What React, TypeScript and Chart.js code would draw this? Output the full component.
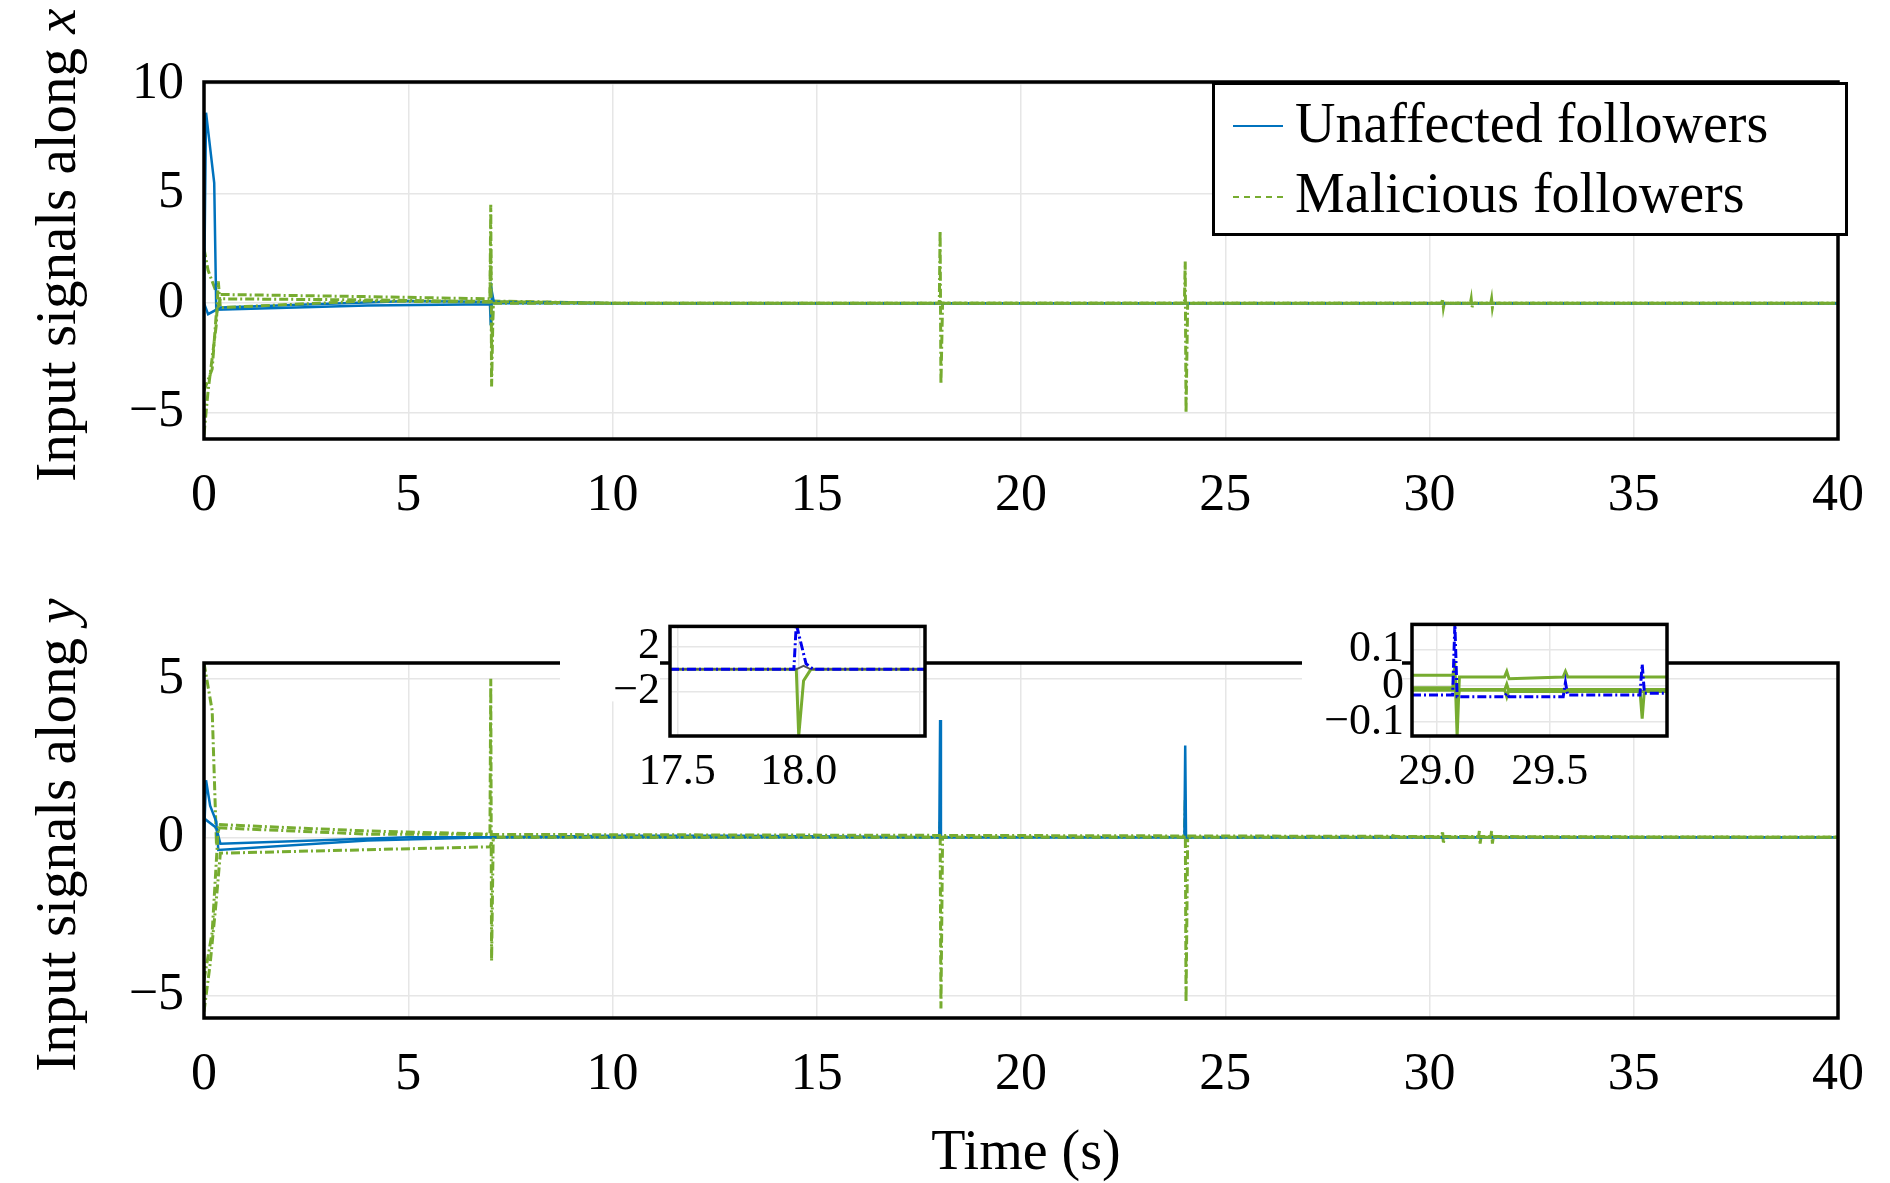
import React, { useEffect, useRef } from "react";
import { Chart, registerables } from "chart.js";
Chart.register(...registerables);

type P = { x: number; y: number };
const pts = (a: number[][]): P[] => a.map(([x, y]) => ({ x, y }));

const BLUE = "#0072BD";
const GREEN = "#77AC30";
const DARKBLUE = "#0000EE";

// Top panel (along x)
const topUnaffected1 = [[0,0],[0.05,8.7],[0.25,5.5],[0.3,-0.3],[4,-0.1],[7,-0.05],[7.02,-1],[7.05,0.5],[7.1,0],[10,0],[40,0]];
const topUnaffected2 = [[0,0],[0.1,-0.5],[0.4,-0.2],[5,0.1],[10,0],[40,0]];
const topMalicious1 = [[0,2.5],[0.1,1.5],[0.3,0.5],[0.35,0.4],[4,0.3],[7,0.2],[7.02,4.5],[7.04,-3.8],[7.08,0.1],[10,0],[18,0],[18.02,3.3],[18.04,-3.7],[18.08,0],[24,0],[24.02,1.9],[24.04,-5],[24.08,0],[30.3,0],[30.32,0.2],[30.34,-0.2],[30.36,0],[31,0],[31.02,0.2],[31.04,-0.2],[31.06,0],[31.5,0],[31.52,0.2],[31.54,-0.2],[31.56,0],[40,0]];
const topMalicious2 = [[0,-6],[0.1,-4],[0.3,-1],[0.35,1],[0.4,-0.2],[4,0.1],[7,0.05],[7.02,2.5],[7.04,-2],[7.08,0],[40,0]];
const topMalicious3 = [[0,-4],[0.2,-3],[0.3,-0.5],[0.4,0.2],[4,0.15],[10,0],[40,0]];

// Bottom panel (along y)
const botUnaffected1 = [[0,0],[0.05,1.8],[0.15,1.0],[0.3,0.5],[0.35,-0.4],[4,-0.1],[7,0],[10,0.05],[13,0.05],[18,0],[18.02,3.7],[18.04,0],[24,0],[24.02,2.9],[24.04,0],[40,0]];
const botUnaffected2 = [[0,0.6],[0.3,0.3],[0.4,-0.2],[5,0],[40,0]];
const botMalicious1 = [[0,5.5],[0.2,4],[0.3,0],[0.4,0.4],[4,0.2],[7,0.1],[7.02,5],[7.04,-3.9],[7.08,0],[18,0],[18.02,0.5],[18.04,-5.4],[18.08,0],[24,0],[24.02,1.2],[24.04,-5.2],[24.08,0],[29.1,0],[29.12,0.1],[29.14,0],[30.3,0],[30.32,0.2],[30.34,-0.2],[30.36,0],[31.2,0],[31.22,0.2],[31.24,-0.2],[31.26,0],[31.5,0],[31.52,0.2],[31.54,-0.2],[31.56,0],[40,0]];
const botMalicious2 = [[0,-5.5],[0.15,-4],[0.3,-2],[0.4,-0.5],[7,-0.3],[7.1,0],[40,0]];
const botMalicious3 = [[0,-4.5],[0.2,-3],[0.35,0.3],[4,0.1],[40,0]];

// Inset 1 (around t = 18)
const in1Blue = [[17.47,0],[17.98,0],[17.99,4],[18.03,0.5],[18.06,0],[18.52,0]];
const in1Green1 = [[17.47,0],[17.99,0],[18.0,-5.9],[18.02,-1],[18.05,0],[18.52,0]];
const in1Green2 = [[17.47,0],[17.99,0],[18.02,0.3],[18.05,0],[18.52,0]];

// Inset 2 (around t = 29-30)
const in2Blue = [[28.89,-0.025],[29.07,-0.025],[29.08,0.17],[29.09,-0.03],[29.3,-0.03],[29.31,-0.02],[29.32,-0.03],[29.56,-0.03],[29.57,0.01],[29.58,-0.025],[29.9,-0.025],[29.91,0.06],[29.92,-0.02],[30.02,-0.02]];
const in2Green1 = [[28.89,0.03],[29.07,0.03],[29.08,0.05],[29.09,-0.14],[29.1,0.025],[29.3,0.025],[29.31,0.04],[29.32,0.02],[29.56,0.025],[29.57,0.04],[29.58,0.025],[30.02,0.025]];
const in2Green2 = [[28.89,-0.005],[29.07,-0.005],[29.08,0.03],[29.09,-0.05],[29.1,-0.01],[29.3,-0.01],[29.31,-0.03],[29.32,-0.01],[29.9,-0.01],[29.91,-0.09],[29.92,-0.01],[30.02,-0.01]];
const in2Green3 = [[28.89,-0.012],[29.3,-0.012],[29.31,0.005],[29.32,-0.015],[29.7,-0.015],[30.02,-0.015]];

const FONT = "'Liberation Serif', 'Times New Roman', serif";

const borderPlugin = {
  id: "frame",
  beforeDraw(c: any) {
    const ctx = c.ctx;
    if (c.options.plugins.frame?.white) {
      const a = c.chartArea;
      ctx.save(); ctx.fillStyle = "#fff";
      ctx.fillRect(a.left, a.top, a.right - a.left, a.bottom - a.top);
      ctx.fillRect(a.left - 110, a.top, 100, 75);
      ctx.restore();
    }
  },
  afterDraw(c: any) {
    const a = c.chartArea, ctx = c.ctx;
    ctx.save(); ctx.strokeStyle = "#000"; ctx.lineWidth = 3.5;
    ctx.strokeRect(a.left, a.top, a.right - a.left, a.bottom - a.top); ctx.restore();
  },
};

function ds(data: number[][], color: string, dashed: boolean, w = 2.5) {
  return { data: pts(data), borderColor: color, borderWidth: dashed ? 3 : w, pointRadius: 0, fill: false, tension: 0, borderDash: dashed ? [9, 3, 2, 3] : [] };
}

function makeOpts(o: any) {
  return {
    animation: false, responsive: false, maintainAspectRatio: false,
    layout: { padding: o.padding },
    plugins: { legend: { display: false }, tooltip: { enabled: false }, frame: { white: !!o.white } },
    scales: {
      x: {
        type: "linear", min: o.xmin, max: o.xmax,
        grid: { color: "#e6e6e6", drawTicks: false, lineWidth: 1.5 }, border: { display: false },
        afterBuildTicks: (s: any) => { s.ticks = o.xticks.map((v: number) => ({ value: v })); },
        afterFit: (s: any) => { s.height = o.xh; },
        ticks: { color: "#000", font: { family: FONT, size: o.fs }, padding: o.xpad, maxRotation: 0, callback: o.xfmt },
      },
      y: {
        type: "linear", min: o.ymin, max: o.ymax,
        grid: { color: "#e6e6e6", drawTicks: false, lineWidth: 1.5 }, border: { display: false },
        afterBuildTicks: (s: any) => { s.ticks = o.yticks.map((v: number) => ({ value: v })); },
        afterFit: (s: any) => { s.width = o.yw; },
        ticks: { color: "#000", font: { family: FONT, size: o.fs }, padding: o.ypad, callback: (v: number) => (v < 0 ? "\u2212" + Math.abs(v) : String(v)) },
      },
    },
  };
}

function ChartBox({ style, w, h, datasets, opts }: any) {
  const ref = useRef<HTMLCanvasElement>(null);
  useEffect(() => {
    const c = new Chart(ref.current!, { type: "line", data: { datasets }, options: opts, plugins: [borderPlugin] } as any);
    return () => c.destroy();
  }, []);
  return <canvas ref={ref} width={w} height={h} style={{ position: "absolute", width: w, height: h, ...style }} />;
}

const xTicksMain = [0, 5, 10, 15, 20, 25, 30, 35, 40];

export default function App() {
  const topSets = [
    ds(topMalicious3, GREEN, true), ds(topMalicious2, GREEN, true),
    ds(topUnaffected2, BLUE, false), ds(topUnaffected1, BLUE, false), ds(topMalicious1, GREEN, true),
  ];
  const botSets = [
    ds(botMalicious3, GREEN, true), ds(botMalicious2, GREEN, true),
    ds(botUnaffected2, BLUE, false), ds(botUnaffected1, BLUE, false), ds(botMalicious1, GREEN, true),
  ];
  const in1Sets = [ds(in1Blue, DARKBLUE, true), ds(in1Green2, "#555", false, 2), ds(in1Green1, GREEN, false, 3)];
  const in2Sets = [ds(in2Blue, DARKBLUE, true), ds(in2Green3, GREEN, false, 3), ds(in2Green2, GREEN, false, 3), ds(in2Green1, GREEN, false, 3)];
  const ylab: React.CSSProperties = { position: "absolute", fontFamily: FONT, fontSize: 57, color: "#000", whiteSpace: "nowrap", transform: "translate(-50%,-50%) rotate(-90deg)" };
  return (
    <div style={{ position: "absolute", left: 0, top: 0, width: 1890, height: 1183, background: "#fff", overflow: "hidden" }}>
      <ChartBox style={{ left: 0, top: 0 }} w={1890} h={540} datasets={topSets}
        opts={makeOpts({ padding: { top: 82, right: 42 }, xmin: 0, xmax: 40, ymin: -6.2, ymax: 10.1, xticks: xTicksMain, yticks: [-5, 0, 5, 10], xh: 101, yw: 204, fs: 52, xpad: 26, ypad: 20 })} />
      <ChartBox style={{ left: 0, top: 560 }} w={1890} h={550} datasets={botSets}
        opts={makeOpts({ padding: { top: 103, right: 42 }, xmin: 0, xmax: 40, ymin: -5.7, ymax: 5.5, xticks: xTicksMain, yticks: [-5, 0, 5], xh: 92, yw: 204, fs: 52, xpad: 26, ypad: 20 })} />
      <ChartBox style={{ left: 560, top: 590 }} w={375} h={200} datasets={in1Sets}
        opts={makeOpts({ white: true, padding: { top: 8, right: 10 }, xmin: 17.47, xmax: 18.52, ymin: -5.9, ymax: 3.8, xticks: [17.5, 18.0, 18.5], yticks: [-2, 2], xh: 54, yw: 110, fs: 44, xpad: 10, ypad: 10, xfmt: (v: number) => (v === 18.5 ? "" : v.toFixed(1)) })} />
      <ChartBox style={{ left: 1290, top: 590 }} w={387} h={200} datasets={in2Sets}
        opts={makeOpts({ white: true, padding: { top: 8, right: 10 }, xmin: 28.89, xmax: 30.02, ymin: -0.138, ymax: 0.17, xticks: [29.0, 29.5], yticks: [-0.1, 0, 0.1], xh: 54, yw: 122, fs: 44, xpad: 10, ypad: 8, xfmt: (v: number) => v.toFixed(1) })} />
      <div style={{ ...ylab, left: 55, top: 245 }}>Input signals along <i>x</i></div>
      <div style={{ ...ylab, left: 55, top: 835 }}>Input signals along <i>y</i></div>
      <div style={{ position: "absolute", left: 1026, top: 1150, transform: "translate(-50%,-50%)", fontFamily: FONT, fontSize: 56 }}>Time (s)</div>
      <div style={{ position: "absolute", left: 1212, top: 82, width: 636, height: 154, border: "3px solid #000", background: "#fff", fontFamily: FONT, fontSize: 56, boxSizing: "border-box" }}>
        <div style={{ position: "absolute", left: 18, top: 40, width: 50, borderTop: `2.5px solid ${BLUE}` }} />
        <div style={{ position: "absolute", left: 80, top: 6 }}>Unaffected followers</div>
        <div style={{ position: "absolute", left: 18, top: 111, width: 50, borderTop: `2.5px dashed ${GREEN}` }} />
        <div style={{ position: "absolute", left: 80, top: 76 }}>Malicious followers</div>
      </div>
    </div>
  );
}
